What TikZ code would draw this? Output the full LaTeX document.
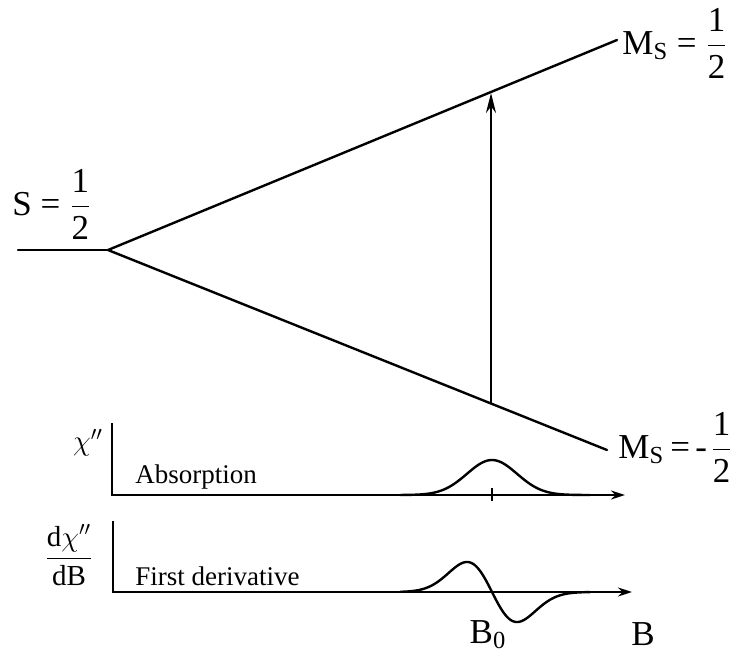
\documentclass[tikz,border=0pt]{standalone}
\usepackage{fontspec}
\setmainfont{Liberation Serif}
\usetikzlibrary{arrows.meta}
\tikzset{
  level/.style={line width=1.2pt, line cap=round},
  axis/.style={line width=1pt, -{Stealth[length=7pt,width=4.5pt]}},
  curve/.style={line width=1.2pt, line join=round},
  biglabel/.style={font=\fontsize{17.5}{20}\selectfont, inner sep=0pt},
  smalllabel/.style={font=\fontsize{13.5}{15}\selectfont, inner sep=0pt},
}
\newcommand{\halffrac}{\ensuremath{\displaystyle\frac{\mbox{1}}{\mbox{2}}}}
\begin{document}
\begin{tikzpicture}[x=0.5pt, y=-0.5pt, >=Stealth]
				\useasboundingbox (0,0) rectangle (739,654);
				% 1. Energy levels of the S = 1/2 spin
				\coordinate (start) at (18,250);
				\coordinate (vertex) at (108,250);
				\coordinate (upend) at (617,40);
				\coordinate (lowend) at (607,450);
				\coordinate (foot) at (491,403.5);
				\coordinate (tip) at (491,93);
				
				\draw[level] (start) -- (vertex);
				\draw[level] (vertex) -- (upend);
				\draw[level] (vertex) -- (lowend);
				
				% 2. Resonance transition
				\draw[line width=1.2pt, -{Stealth[length=10pt,width=5pt]}] (foot) -- (tip);
				
				% 3. Level labels
				\node[biglabel] (spin) at (52,204) {S = \halffrac};
				\node[biglabel, anchor=west] (msup) at (622,43) {M\textsubscript{S} = \halffrac};
				\node[biglabel, anchor=west] (msdown) at (618,447) {M\textsubscript{S}\hspace{0.18em}=\hspace{0.15em}-\hspace{0.1em}\halffrac};
				
				% 4. Absorption spectrum
				\coordinate (absy) at (112,423);
				\coordinate (abso) at (112,495);
				\coordinate (absx) at (625,495);
				\draw[axis] (absy) -- (abso) -- (absx);
				\draw[curve] plot[domain=400:590, samples=90] (\x, {495-35*exp(-((\x-492)*(\x-492))/1250)});
				\coordinate (ticktop) at (492,488);
				\coordinate (tickbot) at (492,501);
				\draw[line width=1pt] (ticktop) -- (tickbot);
				\node[font=\fontsize{14}{16}\selectfont, inner sep=0pt] (chi) at (88,443) {$\chi''$};
				\node[smalllabel, anchor=base west] (abslabel) at (135,483) {Absorption};
				
				% 5. First derivative spectrum
				\coordinate (dery) at (113,521);
				\coordinate (dero) at (113,592);
				\coordinate (derx) at (632,592);
				\draw[axis] (dery) -- (dero) -- (derx);
				\draw[curve] plot[domain=400:590, samples=120] (\x, {592+1.98*(\x-492)*exp(-((\x-492)*(\x-492))/1250)});
				\node[font=\fontsize{14.5}{16}\selectfont, inner sep=0pt] (dchi) at (69,555) {$\displaystyle\frac{\mbox{d}\chi''}{\mbox{dB}}$};
				\node[smalllabel, anchor=base west] (derlabel) at (135,585) {First derivative};
				
				% 6. Field labels
				\node[biglabel, anchor=base] (bzero) at (488,643) {B\textsubscript{0}};
				\node[biglabel, anchor=base] (bfield) at (643,645) {B};
			\end{tikzpicture}
\end{document}
